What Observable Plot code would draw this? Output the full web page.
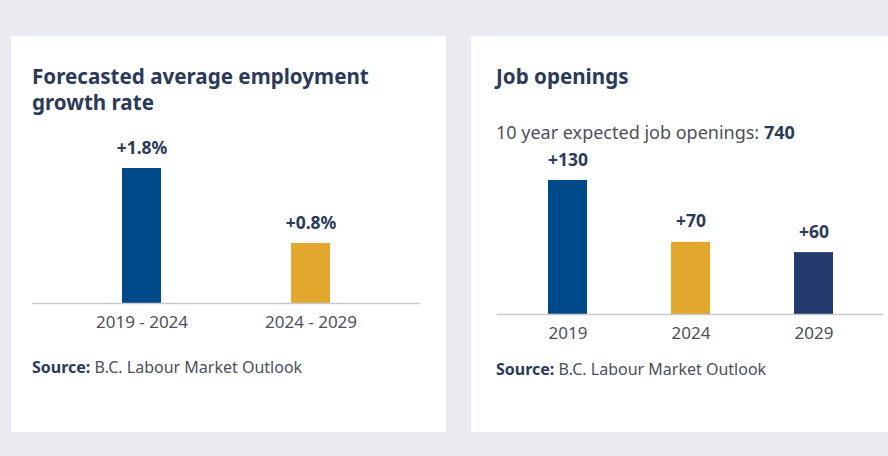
<!DOCTYPE html>
<html>
<head>
<meta charset="utf-8">
<script src="https://cdn.jsdelivr.net/npm/d3@7"></script>
<script src="https://cdn.jsdelivr.net/npm/@observablehq/plot@0.6"></script>
<style>
  html, body { margin: 0; padding: 0; }
  body { width: 888px; height: 456px; background: #e9ebf0; position: relative; overflow: hidden; font-family: "Noto Sans", sans-serif; }
  .card { position: absolute; background: #ffffff; top: 36px; height: 396px; }
  .abs { position: absolute; white-space: nowrap; }
  .title { font-weight: 700; font-size: 20.6px; line-height: 26px; color: #2c3a5a; }
  .sub { font-size: 18px; line-height: 20px; color: #4b505b; }
  .sub b { color: #2c3a5a; }
  .src { font-size: 16px; line-height: 20px; color: #4b505b; }
  .src b { color: #2c3a5a; }
  .plot { position: absolute; }
</style>
</head>
<body>
<div class="card" style="left:11px; width:435px;"></div>
<div class="card" style="left:471px; width:430px;"></div>

<div class="abs title" style="left:32px; top:63px;">Forecasted average employment<br>growth rate</div>
<div class="abs title" style="left:496px; top:63px;">Job openings</div>
<div class="abs sub" style="left:496px; top:122px;">10 year expected job openings: <b>740</b></div>
<div class="abs src" style="left:32px; top:357px;"><b>Source:</b> B.C. Labour Market Outlook</div>
<div class="abs src" style="left:496px; top:359px;"><b>Source:</b> B.C. Labour Market Outlook</div>

<div id="left" class="plot" style="left:32px; top:130px;"></div>
<div id="right" class="plot" style="left:497px; top:140px;"></div>

<script>
// Left chart data
const growthPeriods = ["2019 - 2024", "2024 - 2029"];
const growthRates = [1.8, 0.8];
const growthColors = ["#014a8a", "#e2a82e"];

// Right chart data
const openingYears = ["2019", "2024", "2029"];
const openingValues = [130, 70, 60];
const openingColors = ["#014a8a", "#e2a82e", "#223a6c"];

const growthData = growthPeriods.map((p, i) => ({period: p, value: growthRates[i]}));
const openingData = openingYears.map((p, i) => ({period: p, value: openingValues[i]}));

const labelColor = "#2c3a5a";
const tickColor = "#4b505b";

const leftPlot = Plot.plot({
  width: 388,
  height: 210,
  marginLeft: 0,
  marginRight: 0,
  marginTop: 8,
  marginBottom: 37,
  style: {fontFamily: "Noto Sans, sans-serif", background: "transparent", overflow: "visible"},
  x: {domain: growthPeriods, paddingInner: 0.77, paddingOuter: 0.529, align: 0.5, label: null},
  y: {domain: [0, 2.2], axis: null},
  color: {domain: growthPeriods, range: growthColors},
  marks: [
    Plot.barY(growthData, {x: "period", y: "value", fill: "period"}),
    Plot.ruleY([0], {stroke: "#c8cacd", strokeWidth: 1.5}),
    Plot.text(growthData, {x: "period", y: "value", text: d => "+" + d.value.toFixed(1) + "%", dy: -20, fontSize: 17.5, fontWeight: 700, fill: labelColor}),
    Plot.axisX({tickSize: 0, tickPadding: 12, fontSize: 17, fill: tickColor, label: null})
  ]
});
document.getElementById("left").appendChild(leftPlot);

const rightPlot = Plot.plot({
  width: 386,
  height: 210,
  marginLeft: 0,
  marginRight: 0,
  marginTop: 9,
  marginBottom: 36,
  style: {fontFamily: "Noto Sans, sans-serif", background: "transparent", overflow: "visible"},
  x: {domain: openingYears, paddingInner: 0.6856, paddingOuter: 0.407, align: 0.5, label: null},
  y: {domain: [0, 160], axis: null},
  color: {domain: openingYears, range: openingColors},
  marks: [
    Plot.barY(openingData, {x: "period", y: "value", fill: "period"}),
    Plot.ruleY([0], {stroke: "#c8cacd", strokeWidth: 1.5}),
    Plot.text(openingData, {x: "period", y: "value", text: d => "+" + d.value, dy: -20.5, fontSize: 17.5, fontWeight: 700, fill: labelColor}),
    Plot.axisX({tickSize: 0, tickPadding: 12, fontSize: 17, fill: tickColor, label: null})
  ]
});
document.getElementById("right").appendChild(rightPlot);
</script>
</body>
</html>
